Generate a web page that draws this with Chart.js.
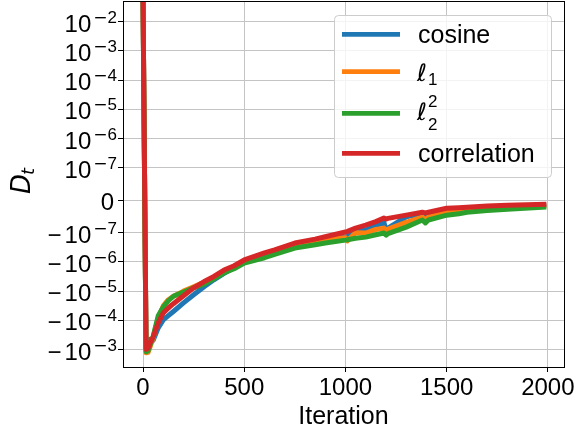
<!DOCTYPE html>
<html>
<head>
<meta charset="utf-8">
<script src="https://cdn.jsdelivr.net/npm/chart.js@4/dist/chart.umd.min.js"></script>
<style>
  html, body { margin: 0; padding: 0; background: #fff; }
</style>
</head>
<body>
<canvas id="dist_chart" width="577" height="434"></canvas>
<script>
const iterations  = [0, 15, 25, 35, 50, 75, 100, 125, 150, 200, 250, 300, 350, 400, 450, 500, 600, 650, 750, 850, 900, 1000, 1010, 1050, 1100, 1150, 1190, 1200, 1210, 1300, 1380, 1395, 1410, 1500, 1560, 1600, 1700, 1800, 1980];
const cosine      = [5e-2, -9e-4, -6e-4, -4.5e-4, -4.8e-4, -1.81e-4, -9.7e-5, -6.95e-5, -5.0e-5, -2.54e-5, -1.33e-5, -7.2e-6, -4.1e-6, -2.46e-6, -1.53e-6, -1.0e-6, -5.5e-7, -4.5e-7, -2.7e-7, -1.97e-7, -1.65e-7, -1.42e-7, -1.32e-7, -9.7e-8, -9.2e-8, -7.9e-8, -6.8e-8, -9.2e-8, -8.6e-8, -5.1e-8, -4.1e-8, -5.9e-8, -4.6e-8, -3.1e-8, -2.8e-8, -2.46e-8, -2.1e-8, -1.85e-8, -1.53e-8];
const ell1        = [5e-2, -1.3e-3, -1.25e-3, -8e-4, -4e-4, -8.2e-5, -3.2e-5, -1.97e-5, -1.5e-5, -1.0e-5, -7.1e-6, -5e-6, -3.5e-6, -2.0e-6, -1.53e-6, -9.5e-7, -5.3e-7, -4.3e-7, -2.7e-7, -1.9e-7, -1.65e-7, -1.5e-7, -1.9e-7, -1.01e-7, -1.03e-7, -9e-8, -8.6e-8, -9.8e-8, -8.9e-8, -6.8e-8, -5.2e-8, -6.1e-8, -5.2e-8, -3.4e-8, -3.7e-8, -2.8e-8, -2.4e-8, -2.0e-8, -1.7e-8];
const ell2sq      = [5e-2, -1.2e-3, -1.1e-3, -7e-4, -3.5e-4, -7e-5, -3.47e-5, -2.14e-5, -1.5e-5, -1.07e-5, -7.7e-6, -5.8e-6, -3.8e-6, -2.4e-6, -1.72e-6, -1.09e-6, -7.2e-7, -5.5e-7, -3.37e-7, -2.6e-7, -2.27e-7, -1.8e-7, -1.75e-7, -1.56e-7, -1.42e-7, -1.18e-7, -1.03e-7, -1.21e-7, -1.08e-7, -8.3e-8, -6.1e-8, -7e-8, -6.1e-8, -4.6e-8, -4.2e-8, -3.7e-8, -3.2e-8, -2.8e-8, -2.15e-8];
const correlation = [5e-2, -1.0e-3, -9.0e-4, -5.9e-4, -3.7e-4, -1.22e-4, -5.6e-5, -3.79e-5, -2.7e-5, -1.44e-5, -7.7e-6, -4.8e-6, -3.15e-6, -1.9e-6, -1.36e-6, -8.6e-7, -4.9e-7, -3.85e-7, -2.27e-7, -1.66e-7, -1.38e-7, -9.8e-8, -9.6e-8, -8.6e-8, -7.7e-8, -6.6e-8, -5.5e-8, -5.8e-8, -5.6e-8, -4.6e-8, -3.7e-8, -3.9e-8, -3.7e-8, -2.46e-8, -2.3e-8, -2.15e-8, -1.8e-8, -1.55e-8, -1.23e-8];

const xTickVals = [0, 500, 1000, 1500, 2000];
const yTickVals = [1e-2, 1e-3, 1e-4, 1e-5, 1e-6, 1e-7, 0, -1e-7, -1e-6, -1e-5, -1e-4, -1e-3];

// symlog axis (linthresh 1e-7, linscale 1) done on a linear scale
const LINTHRESH = 1e-7;
const LINSCALE = 1 / (1 - 1 / 10);
function symlog(v){
    const a = Math.abs(v);
    if(a <= LINTHRESH) return v / LINTHRESH * LINSCALE;
    return Math.sign(v) * (LINSCALE + Math.log10(a / LINTHRESH));
}

const FONT = '"Liberation Sans", Arial, sans-serif';
const series = [
    {label: 'cosine',      values: cosine,      color: '#1f77b4', order: 3},
    {label: 'ℓ1',          values: ell1,        color: '#ff7f0e', order: 2},
    {label: 'ℓ2^2',        values: ell2sq,      color: '#2ca02c', order: 1},
    {label: 'correlation', values: correlation, color: '#d62728', order: 0}
];

function toPoints(values){
    return iterations.map(function(it, i){ return {x: it, y: symlog(values[i])}; });
}

// y tick labels with superscripts, axis titles, spines and the legend
const textPlugin = {
    id: 'textPlugin',
    afterDraw: function(chart){
        const ctx = chart.ctx;
        const area = chart.chartArea;
        const yScale = chart.scales.y;
        ctx.save();

        // spines
        ctx.strokeStyle = '#000';
        ctx.lineWidth = 1;
        ctx.strokeRect(Math.round(area.left) + 0.5, Math.round(area.top) + 0.5,
                       Math.round(area.right - area.left), Math.round(area.bottom - area.top));

        // y tick labels
        ctx.fillStyle = '#000';
        ctx.textBaseline = 'alphabetic';
        ctx.textAlign = 'left';
        yTickVals.forEach(function(v){
            const y = yScale.getPixelForValue(symlog(v));
            if(v === 0){
                ctx.font = '24px ' + FONT;
                ctx.textAlign = 'right';
                ctx.fillText('0', 114, y + 10);
                ctx.textAlign = 'left';
                return;
            }
            const exp = Math.round(Math.log10(Math.abs(v)));
            const lead = v < 0 ? '\u2212' : '';
            ctx.font = '24px ' + FONT;
            const wLead = ctx.measureText(lead).width;
            const wTen = ctx.measureText('10').width;
            ctx.font = '17px "DejaVu Sans"';
            const wMinus = ctx.measureText('\u2212').width;
            ctx.font = '17px ' + FONT;
            const wExp = ctx.measureText(String(Math.abs(exp))).width;
            let x = 117 - (wLead + (lead ? 3 : 0) + wTen + 2 + wMinus + wExp);
            ctx.font = '24px ' + FONT;
            if(lead){ ctx.fillText(lead, x, y + 10); x += wLead + 3; }
            ctx.fillText('10', x, y + 10); x += wTen + 2;
            ctx.font = '17px "DejaVu Sans"';
            ctx.fillText('\u2212', x, y + 1); x += wMinus;
            ctx.font = '17px ' + FONT;
            ctx.fillText(String(Math.abs(exp)), x, y + 1);
        });

        // x title
        ctx.font = '25px ' + FONT;
        ctx.textAlign = 'center';
        ctx.fillText('Iteration', (area.left + area.right) / 2, 424);

        // y title D_t
        ctx.save();
        ctx.translate(30, 194);
        ctx.rotate(-Math.PI / 2);
        ctx.textAlign = 'left';
        ctx.font = 'italic 26px "DejaVu Sans"';
        ctx.fillText('D', 0, 0);
        const wD = ctx.measureText('D').width;
        ctx.font = 'italic 18px "DejaVu Sans"';
        ctx.fillText('t', wD - 1, 4);
        ctx.restore();

        // legend
        const bx = 334, by = 15, bw = 217, bh = 162;
        ctx.beginPath();
        ctx.roundRect(bx + 0.5, by + 0.5, bw, bh, 4);
        ctx.fillStyle = 'rgba(255,255,255,0.8)';
        ctx.fill();
        ctx.strokeStyle = '#cccccc';
        ctx.lineWidth = 1;
        ctx.stroke();

        const rows = [34.3, 71.7, 113.3, 153.3];
        ctx.textAlign = 'left';
        series.forEach(function(s, i){
            const ly = rows[i];
            ctx.strokeStyle = s.color;
            ctx.lineWidth = 4.7;
            ctx.lineCap = 'butt';
            ctx.beginPath();
            ctx.moveTo(342, ly);
            ctx.lineTo(400, ly);
            ctx.stroke();
            ctx.fillStyle = '#000';
            if(i === 1){
                ctx.font = 'italic 24px "DejaVu Sans"';
                ctx.fillText('ℓ', 417, ly + 9);
                const w = ctx.measureText('ℓ').width;
                ctx.font = '17px ' + FONT;
                ctx.fillText('1', 417 + w + 1, ly + 13.5);
            } else if(i === 2){
                ctx.font = 'italic 24px "DejaVu Sans"';
                ctx.fillText('ℓ', 417, ly + 6.5);
                const w = ctx.measureText('ℓ').width;
                ctx.font = '17px ' + FONT;
                ctx.fillText('2', 417 + w + 1, ly + 16.5);
                ctx.fillText('2', 417 + w + 1, ly - 6);
            } else {
                ctx.font = '25px ' + FONT;
                ctx.fillText(s.label, 418, ly + 9);
            }
        });
        ctx.restore();
    }
};

function initDistChart(){
    const ctx = document.getElementById('dist_chart').getContext('2d');
    const chart = new Chart(ctx, {
        type: 'line',
        data: {
            datasets: series.map(function(s){
                return {
                    label: s.label,
                    data: toPoints(s.values),
                    borderColor: s.color,
                    backgroundColor: s.color,
                    borderWidth: 5,
                    order: s.order
                };
            })
        },
        options: {
            responsive: false,
            animation: false,
            layout: { padding: { top: 1, right: 12, left: 0, bottom: 0 } },
            elements: {
                point: { radius: 0 },
                line: { tension: 0, borderCapStyle: 'square', borderJoinStyle: 'round' }
            },
            plugins: {
                legend: { display: false },
                tooltip: { enabled: false }
            },
            scales: {
                x: {
                    type: 'linear',
                    min: -99,
                    max: 2079,
                    afterBuildTicks: function(s){ s.ticks = xTickVals.map(function(v){ return {value: v}; }); },
                    afterFit: function(s){ s.height = 67; },
                    border: { display: false },
                    grid: { color: '#c4c4c4', lineWidth: 1, tickColor: '#000', tickLength: 5 },
                    ticks: {
                        color: '#000',
                        font: { family: FONT, size: 24 },
                        padding: 2,
                        maxRotation: 0,
                        autoSkip: false,
                        callback: function(v){ return String(v); }
                    }
                },
                y: {
                    type: 'linear',
                    min: -5.709,
                    max: 6.819,
                    afterBuildTicks: function(s){ s.ticks = yTickVals.map(function(v){ return {value: symlog(v)}; }); },
                    afterFit: function(s){ s.width = 123; },
                    border: { display: false },
                    grid: { color: '#c4c4c4', lineWidth: 1, tickColor: '#000', tickLength: 5 },
                    ticks: { display: false }
                }
            }
        },
        plugins: [textPlugin]
    });
}

initDistChart();
</script>
</body>
</html>
